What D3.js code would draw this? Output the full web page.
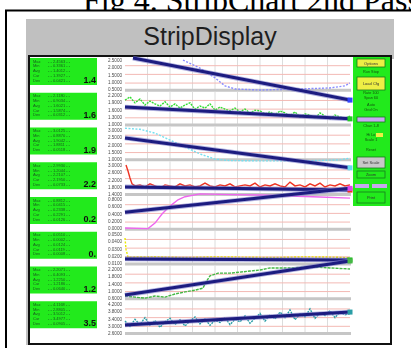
<!DOCTYPE html>
<html>
<head>
<meta charset="utf-8">
<script src="https://cdn.jsdelivr.net/npm/d3@7"></script>
<style>
body { margin: 0; background: #fff; overflow: hidden; }
</style>
</head>
<body>
<div id="main"></div>
<script>
// ---- data ----
const channels = ["CH1", "CH2", "CH3", "CH4", "CH5", "CH6", "CH7", "CH8"];
const bigValues = ["1.4", "1.6", "1.9", "2.2", "0.2", "0.", "1.2", "3.5"];
const rowLabels = ["Max", "Min", "Avg", "Cur", "Dev"];
const boxValues = [
    ["2.4563", "0.3361", "1.4012", "1.3927", "0.0421"],
    ["2.1180", "0.9034", "1.6021", "1.5874", "0.0312"],
    ["3.0125", "0.8870", "1.9042", "1.8811", "0.0518"],
    ["2.9930", "1.2044", "2.2107", "2.1950", "0.0733"],
    ["0.8812", "0.0415", "0.2338", "0.2291", "0.0126"],
    ["0.0510", "0.0002", "0.0124", "0.0119", "0.0008"],
    ["2.2071", "0.4093", "1.2250", "1.2186", "0.0640"],
    ["4.1168", "2.8805", "3.5012", "3.4977", "0.0905"]
];
const tickLabels = [
    ["2.5000", "2.0000", "1.5000", "1.0000", "0.5000"],
    ["2.2000", "1.9000", "1.6000", "1.3000", "1.0000"],
    ["3.0000", "2.5000", "2.0000", "1.5000", "1.0000"],
    ["3.0000", "2.6000", "2.2000", "1.8000", "1.4000"],
    ["0.8000", "0.6000", "0.4000", "0.2000", "0.0000"],
    ["0.0500", "0.0400", "0.0300", "0.0200", "0.0100"],
    ["2.2000", "1.8000", "1.4000", "1.0000", "0.6000"],
    ["4.2000", "3.8000", "3.4000", "3.0000", "2.6000"]
];
const tickPos = [0.9, 0.7, 0.47, 0.27, 0.07];

// fitted trend per strip: [t, value] at start and end
const trends = [
    [[8, 0.97], [225, -0.24]],
    [[0, 0.56], [225, 0.22]],
    [[0, 0.67], [225, -0.19]],
    [[0, 0.26], [225, 0.17]],
    [[0, 0.53], [225, 1.22]],
    [[0, 0.19], [225, 0.16]],
    [[0, 0.15], [225, 1.13]],
    [[0, 0.29], [225, 0.66]]
];

// raw samples
const ch1 = [[58, 0.91], [75, 0.68], [90, 0.40], [100, 0.17], [110, 0.08], [135, 0.05], [175, 0.08], [205, 0.11], [220, 0.17], [225, 0.25]];
const ch2Values = [0.76, 0.85, 0.68, 0.79, 0.62, 0.73, 0.65, 0.59, 0.71, 0.56, 0.65, 0.53, 0.62, 0.68, 0.50, 0.59,
    0.53, 0.65, 0.47, 0.56, 0.50, 0.45, 0.53, 0.42, 0.50, 0.39, 0.47, 0.45, 0.36, 0.42, 0.33, 0.45,
    0.39, 0.30, 0.42, 0.27, 0.36, 0.33, 0.24, 0.39, 0.30, 0.22, 0.33, 0.27, 0.24, 0.30];
const ch3 = [[0, 0.95], [15, 0.92], [30, 0.81], [45, 0.61], [60, 0.41], [75, 0.21], [90, 0.06], [105, 0.02], [135, 0.01], [175, 0.01], [215, 0.04], [225, 0.09]];
const ch4Spike = [[1, 0.89], [3, 0.72], [5, 0.52], [7, 0.35]];
const ch4Values = [0.29, 0.32, 0.26, 0.35, 0.29, 0.23, 0.32, 0.29, 0.26, 0.35, 0.29, 0.32, 0.26, 0.29, 0.37, 0.29,
    0.26, 0.32, 0.29, 0.35, 0.26, 0.29, 0.32, 0.29, 0.37, 0.26, 0.32, 0.29, 0.35, 0.29, 0.26, 0.40,
    0.29, 0.32, 0.26, 0.35, 0.29, 0.37, 0.26, 0.32, 0.29, 0.35, 0.29, 0.32];
const ch5 = [[0, 0.08], [23, 0.06], [30, 0.22], [37, 0.48], [45, 0.71], [53, 0.89], [60, 0.98], [75, 1.06], [105, 1.04], [135, 1.03], [165, 1.0], [195, 0.97], [225, 0.94]];
const ch6 = [[0, 0.79], [1, 0.47], [3, 0.24], [30, 0.25], [60, 0.23], [90, 0.25], [120, 0.24], [150, 0.23], [180, 0.25], [210, 0.24], [225, 0.22]];
const ch7 = [[0, 0.12], [10, 0.09], [20, 0.06], [30, 0.12], [40, 0.09], [50, 0.18], [60, 0.24], [70, 0.29], [78, 0.35], [81, 0.53], [85, 0.70],
    [93, 0.78], [105, 0.78], [115, 0.81], [125, 0.84], [135, 0.87], [145, 0.93], [165, 0.93], [185, 0.96], [205, 0.93], [225, 0.90]];
const ch8Values = [0.40, 0.25, 0.45, 0.30, 0.50, 0.28, 0.42, 0.22, 0.38, 0.48, 0.30, 0.44, 0.26, 0.40, 0.52, 0.32,
    0.46, 0.28, 0.42, 0.36, 0.50, 0.30, 0.45, 0.38, 0.55, 0.34, 0.48, 0.62, 0.40, 0.58, 0.46, 0.66,
    0.50, 0.72, 0.44, 0.60, 0.52, 0.75, 0.48, 0.64, 0.56, 0.70, 0.50, 0.66, 0.58, 0.62];

const samples = [
    ch1,
    ch2Values.map((v, i) => [i * 5, v]),
    ch3,
    ch4Spike.concat(ch4Values.map((v, i) => [10 + i * 5, v])),
    ch5,
    ch6,
    ch7,
    ch8Values.map((v, i) => [i * 5, v])
];

// styles
const lineColors = ["#8a8cff", "#33dd33", "#77e0f0", "#ee3322", "#ee66ee", "#e8e800", "#44b844", "#2a9ea6"];
const markColors = ["#3344ff", "#22cc22", "#66ddee", "#ee3322", "#dd44ee", "#22bb22", "#44b844", "#2a9ea6"];
const dashes = ["2,1.5", "2,1", "2,1.5", null, null, "2,1.5", "3,1", "2,1"];

const width = 411;
const height = 348;

const svg = d3.select('#main').append("svg")
    .attr("width", width)
    .attr("height", height);

// soft focus, the source is a small scan
svg.append("defs").append("filter")
    .attr("id", "soft")
    .append("feGaussianBlur")
    .attr("stdDeviation", 0.45);

// caption, partly hidden behind the frame
svg.append("text")
    .attr("x", 83)
    .attr("y", 10.5)
    .attr("font-family", "Liberation Serif")
    .attr("font-size", 32)
    .attr("fill", "#000")
    .text("Fig 4. StripChart 2nd Pass");

svg.append("rect")
    .attr("x", 6).attr("y", 10.5)
    .attr("width", 430).attr("height", 360)
    .attr("fill", "#fff")
    .attr("stroke", "#000")
    .attr("stroke-width", 2);

// window
svg.append("rect")
    .attr("x", 26).attr("y", 19)
    .attr("width", 368).attr("height", 40)
    .attr("fill", "#c0c0c0");
svg.append("rect")
    .attr("x", 26).attr("y", 19)
    .attr("width", 3).attr("height", 326)
    .attr("fill", "#c0c0c0");
svg.append("text")
    .attr("x", 210)
    .attr("y", 45)
    .attr("text-anchor", "middle")
    .attr("font-family", "Liberation Sans")
    .attr("font-size", 25)
    .attr("fill", "#1e1e1e")
    .text("StripDisplay");

svg.append("rect")
    .attr("x", 29).attr("y", 56)
    .attr("width", 362).attr("height", 288)
    .attr("fill", "#fff")
    .attr("stroke", "#111")
    .attr("stroke-width", 2);

const x = d3.scaleLinear().domain([0, 225]).range([125, 350]);
const band = d3.scaleBand().domain(channels).range([57, 335]);
const h = band.bandwidth();
const xGrid = d3.range(22.5, 225, 22.5);

const inner = svg.append("g").attr("filter", "url(#soft)");
const chart = inner.append("g");

// strip backgrounds
channels.forEach((ch, i) => {
    const top = band(ch);
    const y = d3.scaleLinear().domain([0, 1]).range([top + h, top]);
    const g = chart.append("g");
    g.selectAll("line.v")
        .data(xGrid)
        .enter()
        .append("line")
        .attr("x1", d => x(d)).attr("x2", d => x(d))
        .attr("y1", top).attr("y2", top + h - 2)
        .attr("stroke", "#dcdcdc")
        .attr("stroke-width", 1);
    g.selectAll("line.h")
        .data([0.25, 0.5, 0.75])
        .enter()
        .append("line")
        .attr("x1", x(0)).attr("x2", x(225))
        .attr("y1", d => y(d)).attr("y2", d => y(d))
        .attr("stroke", "#f3b9b4")
        .attr("stroke-width", 1);
    g.append("rect")
        .attr("x", x(0)).attr("y", top + h - 3)
        .attr("width", x(225) - x(0) + 1).attr("height", 3)
        .attr("fill", "#c6c6c6");

    // left green box
    const box = inner.append("g").attr("transform", `translate(30, ${top + 1})`);
    box.append("rect")
        .attr("width", 67).attr("height", 27)
        .attr("fill", "#22ea1c");
    box.selectAll("text.l")
        .data(rowLabels)
        .enter()
        .append("text")
        .attr("x", 3)
        .attr("y", (d, k) => 4.5 + k * 4.8)
        .attr("font-family", "Liberation Sans")
        .attr("font-size", 4)
        .attr("fill", "#1d5a1d")
        .text(d => d);
    box.selectAll("text.v")
        .data(boxValues[i])
        .enter()
        .append("text")
        .attr("x", 18)
        .attr("y", (d, k) => 4.5 + k * 4.8)
        .attr("font-family", "Liberation Sans")
        .attr("font-size", 4)
        .attr("fill", "#1d5a1d")
        .text(d => "- - " + d + " - -");
    box.append("text")
        .attr("x", 66).attr("y", 25)
        .attr("text-anchor", "end")
        .attr("font-family", "Liberation Sans")
        .attr("font-weight", "bold")
        .attr("font-size", 9)
        .attr("fill", "#111")
        .text(bigValues[i]);

    // labels column
    inner.append("g").selectAll("text")
        .data(tickLabels[i])
        .enter()
        .append("text")
        .attr("x", 122)
        .attr("y", (d, k) => y(tickPos[k]) + 2)
        .attr("text-anchor", "end")
        .attr("font-family", "Liberation Sans")
        .attr("font-size", 4.6)
        .attr("fill", "#4a4a4a")
        .text(d => d);
});

// traces drawn over all strips (not clipped)
channels.forEach((ch, i) => {
    const top = band(ch);
    const y = d3.scaleLinear().domain([0, 1]).range([top + h, top]);
    const lineGenerator = d3.line()
        .x(d => x(d[0]))
        .y(d => y(d[1]));

    chart.append("path")
        .attr("fill", "none")
        .attr("stroke", lineColors[i])
        .attr("stroke-width", 1.4)
        .attr("stroke-dasharray", dashes[i])
        .attr("d", lineGenerator(samples[i]));

    chart.append("path")
        .attr("fill", "none")
        .attr("stroke", "#7c7cc8")
        .attr("stroke-width", 4.8)
        .attr("stroke-opacity", 0.6)
        .attr("d", lineGenerator(trends[i]));
    chart.append("path")
        .attr("fill", "none")
        .attr("stroke", "#1a1a80")
        .attr("stroke-width", 3)
        .attr("d", lineGenerator(trends[i]));

    const end = trends[i][1];
    chart.append("rect")
        .attr("x", x(end[0]) - 2.5)
        .attr("y", y(end[1]) - 2.5)
        .attr("width", 5).attr("height", 5)
        .attr("fill", markColors[i]);
});

// right control panel
const panel = inner.append("g").attr("transform", "translate(353, 57)");
panel.append("rect")
    .attr("width", 37).attr("height", 149)
    .attr("fill", "#22ea1c");
const panelBoxes = [
    { y: 2, h: 8, fill: "#eeee44", label: "Options" },
    { y: 20, h: 13, fill: "#eeee44", label: "Load Cfg" },
    { y: 60, h: 5, fill: "#c8a8f0", label: "" },
    { y: 100, h: 11, fill: "#c8c8c8", label: "Set Scale" },
    { y: 114, h: 7, fill: "none", label: "Zoom" },
    { y: 135, h: 11, fill: "none", label: "Print" }
];
panel.selectAll("rect.b")
    .data(panelBoxes)
    .enter()
    .append("rect")
    .attr("x", 4).attr("y", d => d.y)
    .attr("width", 28).attr("height", d => d.h)
    .attr("fill", d => d.fill)
    .attr("stroke", "#1a7a1a")
    .attr("stroke-width", 0.8);
panel.selectAll("text.b")
    .data(panelBoxes)
    .enter()
    .append("text")
    .attr("x", 18).attr("y", d => d.y + d.h / 2 + 1.5)
    .attr("text-anchor", "middle")
    .attr("font-family", "Liberation Sans")
    .attr("font-size", 4)
    .attr("fill", "#333")
    .text(d => d.label);
const panelTexts = [
    { y: 16, t: "Run  Stop" }, { y: 37, t: "Rate  100" }, { y: 42, t: "Span  60" },
    { y: 49, t: "Auto" }, { y: 54, t: "Grid On" }, { y: 70, t: "Chan 1-8" },
    { y: 79, t: "Hi  Lo" }, { y: 84, t: "Scale  1" }, { y: 94, t: "Reset" }
];
panel.selectAll("text.t")
    .data(panelTexts)
    .enter()
    .append("text")
    .attr("x", 18).attr("y", d => d.y)
    .attr("text-anchor", "middle")
    .attr("font-family", "Liberation Sans")
    .attr("font-size", 3.8)
    .attr("fill", "#145014")
    .text(d => d.t);
panel.append("rect").attr("x", 23).attr("y", 76).attr("width", 7).attr("height", 4).attr("fill", "#eeee44");
panel.append("rect").attr("x", 2).attr("y", 127).attr("width", 14).attr("height", 4).attr("fill", "#c8a8f0");
panel.append("rect").attr("x", 19).attr("y", 127).attr("width", 15).attr("height", 4).attr("fill", "#c8a8f0");
</script>
</body>
</html>
